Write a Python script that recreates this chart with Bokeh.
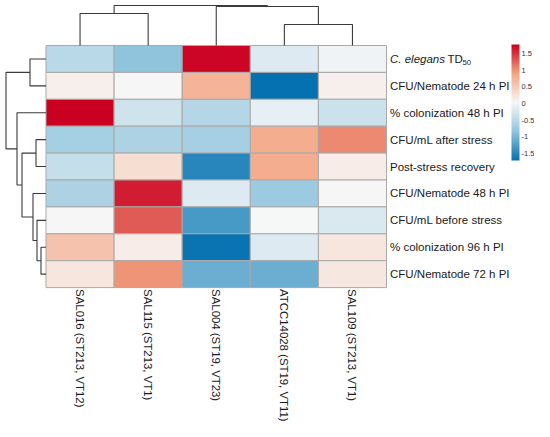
from bokeh.plotting import figure
from bokeh.models import (ColumnDataSource, Range1d, LinearColorMapper, ColorBar,
                          FixedTicker)
from bokeh.core.properties import value
from bokeh.embed import file_html
from bokeh.resources import INLINE

# ---------------- data ----------------
strains = ["SAL016 (ST213, VT12)", "SAL115 (ST213, VT1)", "SAL004 (ST19, VT23)",
           "ATCC14028 (ST19, VT11)", "SAL109 (ST213, VT1)"]
traits = ["C. elegans TD50", "CFU/Nematode 24 h PI", "% colonization 48 h PI",
          "CFU/mL after stress", "Post-stress recovery", "CFU/Nematode 48 h PI",
          "CFU/mL before stress", "% colonization 96 h PI", "CFU/Nematode 72 h PI"]

# z-scores, one list per trait (row), in strain (column) order
td50        = [-0.50, -0.85,  1.75, -0.20, -0.03]
nem24       = [ 0.12,  0.04,  0.75, -1.72,  0.12]
col48       = [ 1.78, -0.32, -0.55, -0.12, -0.35]
cfu_after   = [-0.68, -0.62, -0.66,  0.80,  1.05]
post_stress = [-0.42,  0.30, -1.50,  0.80,  0.15]
nem48       = [-0.62,  1.62, -0.20, -0.75,  0.04]
cfu_before  = [ 0.04,  1.30, -1.30,  0.02, -0.22]
col96       = [ 0.58,  0.15, -1.68, -0.20,  0.22]
nem72       = [ 0.22,  1.00, -1.08, -1.08,  0.20]
rows_values = [td50, nem24, col48, cfu_after, post_stress, nem48, cfu_before, col96, nem72]

# dendrogram linkages: (child a, child b, height); leaves 0..n-1 in display order
col_linkage = [(0, 1, 3.2), (3, 4, 2.1), (2, 6, 3.9), (5, 7, 4.0)]
row_linkage = [(0, 1, 1.6), (3, 4, 1.0), (7, 8, 0.5), (6, 11, 0.9), (5, 12, 1.3),
               (10, 13, 2.4), (2, 14, 2.9), (9, 15, 4.0)]

cbar_ticks = [-1.5, -1, -0.5, 0, 0.5, 1, 1.5]
cbar_low, cbar_high = -1.72, 1.78

# ---------------- layout constants ----------------
W, H = 534, 421
CW, RH = 68.1, 26.9          # cell width / height in px
X0, Y0 = 45.5, 45.0          # heatmap top-left in frame px
DEN_PX = 10.0                # px per dendrogram height unit

base = ["#0571b0", "#92c5de", "#f7f7f7", "#f4a582", "#ca0020"]


def interp_palette(stops, n=256):
    rgb = [tuple(int(s[i:i + 2], 16) for i in (1, 3, 5)) for s in stops]
    out = []
    for k in range(n):
        t = k / (n - 1) * (len(rgb) - 1)
        i = min(int(t), len(rgb) - 2)
        f = t - i
        c = [round(rgb[i][j] + (rgb[i + 1][j] - rgb[i][j]) * f) for j in range(3)]
        out.append("#%02x%02x%02x" % tuple(c))
    return out


palette = interp_palette(base)
mapper = LinearColorMapper(palette=palette, low=cbar_low, high=cbar_high)

p = figure(width=W, height=H, output_backend="svg", toolbar_location=None,
           x_range=Range1d(-X0 / CW, (W - X0) / CW),
           y_range=Range1d((H - Y0) / RH, -Y0 / RH),
           x_axis_location=None, y_axis_location=None, min_border=0)
p.grid.visible = False
p.outline_line_color = None
p.background_fill_color = "white"

# ---------------- heatmap ----------------
xs, ys, vs = [], [], []
for r, vals in enumerate(rows_values):
    for c, v in enumerate(vals):
        xs.append(c + 0.5)
        ys.append(r + 0.5)
        vs.append(v)
src = ColumnDataSource(dict(x=xs, y=ys, v=vs))
p.rect("x", "y", width=1, height=1, source=src,
       fill_color={"field": "v", "transform": mapper},
       line_color="#a9a9a9", line_width=1)


# ---------------- dendrograms ----------------
def dendro_segments(linkage, n):
    pos = {i: i + 0.5 for i in range(n)}
    hgt = {i: 0.0 for i in range(n)}
    segs = []
    for k, (a, b, h) in enumerate(linkage):
        segs.append(([pos[a], pos[a], pos[b], pos[b]], [hgt[a], h, h, hgt[b]]))
        pos[n + k] = (pos[a] + pos[b]) / 2
        hgt[n + k] = h
    return segs


top = dendro_segments(col_linkage, len(strains))
p.multi_line([s[0] for s in top], [[-h * DEN_PX / RH for h in s[1]] for s in top],
             line_color="#3a3a3a", line_width=1.1)
left = dendro_segments(row_linkage, len(traits))
p.multi_line([[-h * DEN_PX / CW for h in s[1]] for s in left], [s[0] for s in left],
             line_color="#3a3a3a", line_width=1.1)

# ---------------- labels ----------------
FONT = value("Liberation Sans")
TXT = "#1a1a1a"
RFS = "11.5px"
lx = len(strains) + 3.5 / CW
p.text(x=[lx] * (len(traits) - 1), y=[r + 0.5 for r in range(1, len(traits))],
       text=traits[1:], text_font=FONT, text_font_size=RFS, text_color=TXT,
       text_align="left", text_baseline="middle")
# first label: italic species name + TD with subscript 50
p.text(x=[lx], y=[0.5], text=["C. elegans"], text_font=FONT, text_font_size=RFS,
       text_font_style="italic", text_color=TXT, text_align="left", text_baseline="middle")
p.text(x=[lx + 57.5 / CW], y=[0.5], text=["TD"], text_font=FONT, text_font_size=RFS,
       text_color=TXT, text_align="left", text_baseline="middle")
p.text(x=[lx + 72.5 / CW], y=[0.5 + 3.5 / RH], text=["50"], text_font=FONT,
       text_font_size="7.8px", text_color=TXT, text_align="left", text_baseline="middle")

p.text(x=[c + 0.5 for c in range(len(strains))], y=[len(traits) + 1.5 / RH] * len(strains),
       text=strains, angle=-1.5707963, text_font=FONT, text_font_size="11.4px",
       text_color=TXT, text_align="left", text_baseline="middle")

# ---------------- colour bar ----------------
cb = ColorBar(color_mapper=mapper, width=8, height=116, padding=0, margin=0,
              location=(511, 261), ticker=FixedTicker(ticks=cbar_ticks),
              major_label_overrides={t: ("%g" % t) for t in cbar_ticks},
              major_label_text_font_size="7.5px", major_label_text_color="#333333",
              major_label_text_font="Liberation Sans",
              major_tick_line_color=None, minor_tick_line_color=None,
              bar_line_color=None, border_line_color=None,
              background_fill_alpha=0, label_standoff=2)
p.add_layout(cb, "center")

open("out.html", "w").write(file_html(p, INLINE))
